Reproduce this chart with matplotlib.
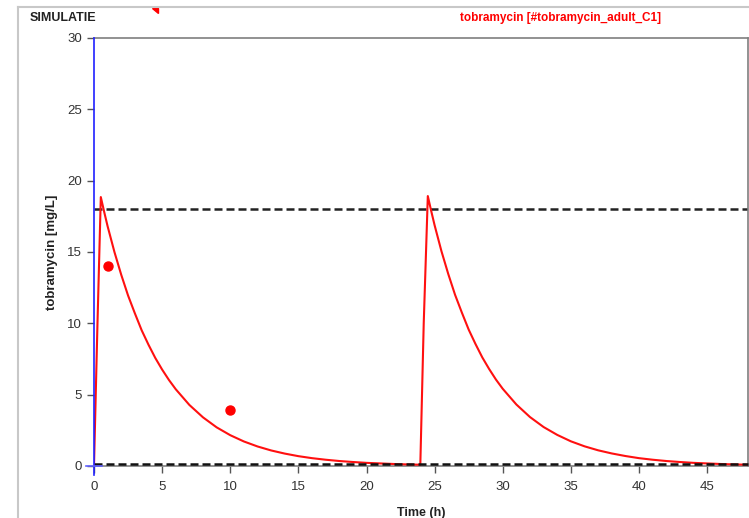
import numpy as np
import matplotlib.pyplot as plt
from matplotlib.lines import Line2D
from matplotlib.patches import Polygon

plt.rcParams['font.family'] = ['Liberation Sans Narrow', 'Liberation Sans', 'DejaVu Sans']

# simulated tobramycin concentration
tijd = [0, 0.25, 0.5, 0.75, 1, 1.5, 2, 2.5, 3, 3.5, 4, 4.5, 5, 5.5, 6, 7, 8, 9, 10,
        11, 12, 13, 14, 15, 16, 17, 18, 19, 20, 21, 22, 23, 23.95,
        24.2, 24.5, 24.75, 25, 25.5, 26, 26.5, 27, 27.5, 28, 28.5, 29, 29.5, 30, 31, 32, 33, 34,
        35, 36, 37, 38, 39, 40, 41, 42, 43, 44, 45, 46, 47, 48]
conc = [0, 9.8, 18.85, 17.8, 16.8, 15.0, 13.4, 11.95, 10.7, 9.51, 8.5, 7.57, 6.76, 6.03, 5.38, 4.28, 3.41, 2.71, 2.16,
        1.72, 1.37, 1.09, 0.87, 0.69, 0.55, 0.44, 0.35, 0.28, 0.22, 0.18, 0.14, 0.11, 0.09,
        10.0, 18.92, 17.87, 16.87, 15.06, 13.46, 12.0, 10.75, 9.56, 8.55, 7.61, 6.8, 6.06, 5.41, 4.31, 3.43, 2.73, 2.18,
        1.73, 1.38, 1.1, 0.88, 0.7, 0.55, 0.44, 0.35, 0.28, 0.22, 0.18, 0.14, 0.11, 0.09]

# gemeten waarden
meet_t = [1, 10]
meet_c = [14.0, 3.9]

# doelwaarden (piek / dal)
piek = 18.0
dal = 0.12

xticks = [0, 5, 10, 15, 20, 25, 30, 35, 40, 45]
yticks = [0, 5, 10, 15, 20, 25, 30]

fig = plt.figure(figsize=(7.49, 5.18), dpi=100)
ax = fig.add_axes([94/749, 1 - 466/518, 654/749, 428/518])

ax.axhline(piek, color='#222222', lw=1.8, dashes=(3.2, 1.6), zorder=2)
ax.axhline(dal, color='#111111', lw=1.8, dashes=(3.2, 1.6), zorder=4, clip_on=False)
ax.plot(tijd, conc, color='#ff1010', lw=1.5, zorder=3)
ax.plot(meet_t, meet_c, 'o', color='#ff0000', ms=6.5, zorder=4)

ax.set_xlim(0, 48)
ax.set_ylim(0, 30)
ax.set_xticks(xticks)
ax.set_yticks(yticks)
ax.tick_params(axis='both', colors='#555555', labelcolor='#333333', labelsize=9.5, length=5, width=1)
ax.tick_params(axis='x', pad=6)

for s in ['top', 'right', 'bottom']:
    ax.spines[s].set_color('#7f7f7f')
    ax.spines[s].set_linewidth(1.2)
ax.spines['left'].set_visible(False)
# blauwe y-as bij t = 0
ax.plot([0, 0], [-0.6, 30], color='#2020ff', lw=1.2, clip_on=False, zorder=5)
ax.plot([-0.6, 0.6], [0, 0], color='#6060ff', lw=1.2, clip_on=False, zorder=5)

ax.set_xlabel('Time (h)', fontweight='bold', fontsize=9, color='#222222', labelpad=10)
ax.set_ylabel('tobramycin [mg/L]', fontweight='bold', fontsize=9.5, color='#222222', labelpad=7)

fig.text(30/749, 1 - 18/518, 'SIMULATIE', fontweight='bold', fontsize=9, color='#222222', va='center')
fig.text(561/749, 1 - 18/518, 'tobramycin [#tobramycin_adult_C1]', fontweight='bold', fontsize=8.5,
         color='#ff0000', va='center', ha='center')

# rand van het paneel
fig.add_artist(Line2D([18/749, 18/749], [0, 1 - 7/518], color='#c8c8c8', lw=1.5))
fig.add_artist(Line2D([18/749, 1], [1 - 7/518, 1 - 7/518], color='#c8c8c8', lw=1.5))
fig.add_artist(Polygon([[152/749, 1 - 8/518], [158/749, 1 - 8/518], [158/749, 1 - 13/518]],
                       closed=True, color='#ff0000'))

fig.savefig('out.png', dpi=100)
